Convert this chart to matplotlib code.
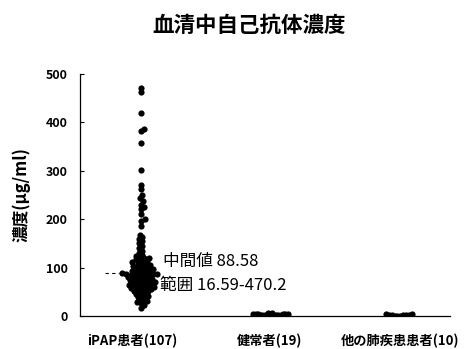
import numpy as np
import matplotlib
matplotlib.use("Agg")
from matplotlib import pyplot as plt

plt.rcParams['font.family'] = ['Noto Sans CJK JP', 'DejaVu Sans']

# group labels
groups = ['iPAP患者(107)', '健常者(19)', '他の肺疾患患者(10)']

# serum autoantibody concentration (ug/ml)
ipap = [470.2, 462, 420, 387, 383, 357, 302, 270, 262, 250,
        243, 237, 230, 226, 222, 210, 200, 197, 185, 168,
        163, 160, 155, 150, 145, 140, 135,
        130, 127, 125, 122, 120, 119, 117, 115, 113, 111,
        110, 108, 106, 105, 104, 102, 101, 100, 98, 97,
        96, 95, 94, 93, 91, 90,
        88.58,
        88, 87.5, 87, 86.5, 86, 85, 84, 83, 82, 81,
        80, 79, 78, 77, 76, 75, 74, 73, 72, 71,
        70, 69, 68, 67, 66, 65, 64, 63, 62, 61,
        60, 59, 58, 57, 56, 55, 54, 52, 51, 50,
        48, 46, 44, 42, 40, 38, 35, 32, 30, 28,
        26, 22, 16.59]
healthy = [0.5, 1.0, 1.2, 1.5, 1.8, 2.0, 2.2, 2.5, 2.7, 3.0,
           3.2, 3.5, 3.8, 4.0, 4.3, 4.6, 5.0, 5.5, 6.0]
other_lung = [0.3, 0.6, 1.0, 1.4, 1.8, 2.2, 2.6, 3.0, 3.5, 4.0]

median_txt = '中間値 88.58'
range_txt = '範囲 16.59-470.2'
median_val = 88.58

px_per_unit = 0.484   # vertical pixels per ug/ml
px_per_cat = 128.0    # horizontal pixels per category


def swarm_offsets(vals, d):
    # simple beeswarm in pixel space, returns x offsets in category units
    vals = np.asarray(vals, dtype=float)
    order = np.argsort(vals)
    ys = vals * px_per_unit
    placed = []
    offs = np.zeros(len(vals))
    for i in order:
        y = ys[i]
        cands = [0.0]
        for (px, py) in placed:
            dy = abs(y - py)
            if dy < d:
                dx = np.sqrt(d * d - dy * dy)
                cands += [px + dx, px - dx]
        cands = sorted(cands, key=abs)
        for c in cands:
            ok = True
            for (px, py) in placed:
                if (c - px) ** 2 + (y - py) ** 2 < d * d - 1e-6:
                    ok = False
                    break
            if ok:
                break
        placed.append((c, y))
        offs[i] = c / px_per_cat
    return offs


fig = plt.figure(figsize=(4.66, 3.49), dpi=100)
ax = fig.add_axes([80 / 466, 33 / 349, 370 / 466, 242 / 349])

data = [ipap, healthy, other_lung]
spacing = [3.7, 2.3, 2.9]
for k, vals in enumerate(data):
    offs = swarm_offsets(vals, spacing[k])
    ax.scatter(k + offs, vals, s=20, color='black', linewidths=0, zorder=3)

ax.plot([-0.28, -0.17], [median_val, median_val], color='black', lw=0.8,
        linestyle=(0, (3, 3)), zorder=2)
ax.text(0.17, 112, median_txt, fontsize=12, va='center', ha='left')
ax.text(0.15, 62, range_txt, fontsize=12, va='center', ha='left')

ax.set_xlim(-0.477, 2.41)
ax.set_ylim(0, 500)
ax.set_yticks([0, 100, 200, 300, 400, 500])
ax.set_xticks([-0.07, 1.0, 2.02])
ax.set_xticklabels(groups, fontsize=9.5, fontweight='bold')
for lab in ax.get_yticklabels():
    lab.set_fontsize(9)
    lab.set_fontweight('bold')
ax.tick_params(axis='y', direction='in', length=3, pad=9, width=0.8)
ax.tick_params(axis='x', length=0, pad=13)

ax.spines['top'].set_visible(False)
ax.spines['right'].set_visible(False)
ax.spines['left'].set_linewidth(0.9)
ax.spines['bottom'].set_linewidth(0.9)

ax.set_ylabel('濃度(μg/ml)', fontsize=12, fontweight='bold')
ax.yaxis.set_label_coords(-0.135, 0.5)

fig.text(249 / 466, 1 - 25 / 349, '血清中自己抗体濃度', fontsize=15.5,
         fontweight='bold', ha='center', va='center')

fig.savefig('out.png', dpi=100)
